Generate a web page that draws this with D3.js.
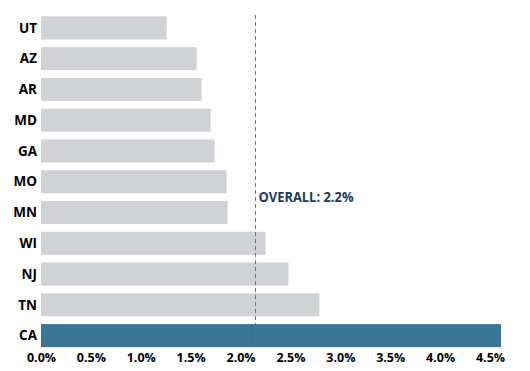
<!DOCTYPE html>
<html>
<head>
<meta charset="utf-8">
<script src="https://cdn.jsdelivr.net/npm/d3@7"></script>
<style>
  body { margin: 0; background: #fff; }
  svg text { font-family: "Open Sans", sans-serif; }
</style>
</head>
<body>
<svg id="chart" width="530" height="371"></svg>
<script>
var states = ['UT', 'AZ', 'AR', 'MD', 'GA', 'MO', 'MN', 'WI', 'NJ', 'TN', 'CA'];
var rates = [1.26, 1.56, 1.61, 1.70, 1.74, 1.86, 1.87, 2.25, 2.48, 2.79, 4.61];
var highlight = ['CA'];
var overall = 2.15;
var overallLabel = 'OVERALL: 2.2%';
var ticks = [0, 0.5, 1, 1.5, 2, 2.5, 3, 3.5, 4, 4.5];

var svg = d3.select('#chart');

var x = d3.scaleLinear().domain([0, 4.5]).range([41, 490]);
var y = d3.scaleBand().domain(states).range([12.5, 351]).paddingInner(0.25).paddingOuter(0.125);

svg.selectAll('rect.bar').data(states).enter().append('rect')
  .attr('class', 'bar')
  .attr('x', x(0))
  .attr('y', function(d) { return y(d); })
  .attr('width', function(d, i) { return x(rates[i]) - x(0); })
  .attr('height', y.bandwidth())
  .attr('fill', function(d) { return highlight.indexOf(d) >= 0 ? '#3b7697' : '#d1d2d6'; });

// state labels
svg.selectAll('text.state').data(states).enter().append('text')
  .attr('class', 'state')
  .attr('x', x(0) - 4)
  .attr('y', function(d) { return y(d) + y.bandwidth() / 2; })
  .attr('dy', '0.35em')
  .attr('text-anchor', 'end')
  .attr('font-size', 13.5)
  .attr('font-weight', 700)
  .attr('fill', '#000')
  .text(function(d) { return d; });

// x axis
var axis = svg.append('g')
  .attr('transform', 'translate(0,351)')
  .call(d3.axisBottom(x).tickValues(ticks).tickSize(0).tickPadding(2)
    .tickFormat(function(d) { return d.toFixed(1) + '%'; }));
axis.select('.domain').remove();
axis.selectAll('text')
  .attr('font-family', '"Open Sans", sans-serif')
  .attr('font-size', 12.5)
  .attr('font-weight', 700)
  .attr('fill', '#000');

// overall line
svg.append('line')
  .attr('x1', x(overall)).attr('x2', x(overall))
  .attr('y1', 15).attr('y2', 347)
  .attr('stroke', '#6b7075')
  .attr('stroke-width', 1)
  .attr('stroke-dasharray', '4,3');

svg.append('text')
  .attr('x', x(overall) + 3)
  .attr('y', y('MO') + y.bandwidth() + 4)
  .attr('dy', '0.35em')
  .attr('font-family', 'Roboto, sans-serif')
  .attr('font-size', 14)
  .attr('font-weight', 700)
  .attr('fill', '#1f3b5c')
  .attr('textLength', 95)
  .attr('lengthAdjust', 'spacingAndGlyphs')
  .text(overallLabel);
</script>
</body>
</html>
